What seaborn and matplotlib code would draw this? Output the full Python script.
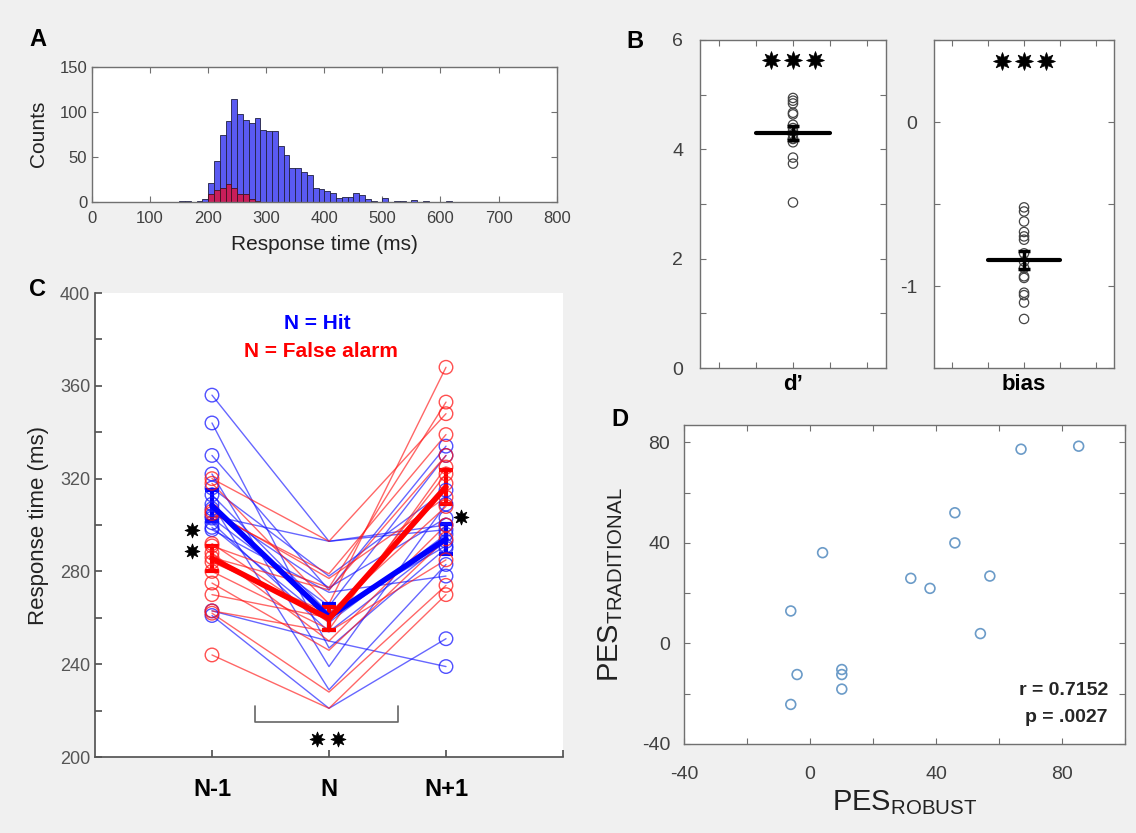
import numpy as np
import pandas as pd
import matplotlib
matplotlib.use('Agg')
import matplotlib.pyplot as plt
import seaborn as sns

# ---------------- data ----------------
# A: response time histogram, 10 ms bins starting at 150 ms
bin_starts = np.arange(150, 620, 10)
hit_counts = [1, 1, 0, 1, 3,
              21, 45, 74, 90, 114, 97, 91, 87, 93, 80,
              78, 78, 62, 52, 37, 37, 33, 29, 15, 14,
              12, 10, 4, 5, 5, 10, 7, 3, 1, 0,
              4, 0, 1, 1, 0, 2, 0, 1, 0, 0,
              0, 1]
fa_counts = [0, 0, 0, 0, 0,
             8, 13, 15, 20, 15, 8, 8, 3, 1, 0,
             0, 0, 0, 0, 0, 0, 0, 0, 0, 0,
             0, 0, 0, 0, 0, 0, 0, 0, 0, 0,
             0, 0, 0, 0, 0, 0, 0, 0, 0, 0,
             0, 0]

# B: per-subject d' and bias
dprime = [4.94, 4.89, 4.84, 4.67, 4.64, 4.45, 4.39, 4.33, 4.27, 4.20, 4.19, 4.13, 3.85, 3.74, 3.03]
bias = [-0.52, -0.545, -0.606, -0.67, -0.697, -0.717, -0.80, -0.85, -0.889, -0.94, -0.95,
        -1.04, -1.055, -1.10, -1.20]

# C: response times for trial N-1, N, N+1 (one entry per subject)
trial_labels = ['N-1', 'N', 'N+1']
hit_prev = [356, 344, 330, 322, 316, 313, 309, 307, 304, 303, 301, 299, 298, 263, 261]
hit_curr = [293, 247, 272, 239, 278, 262, 229, 273, 293, 265, 254, 258, 271, 250, 221]
hit_next = [300, 290, 334, 309, 315, 291, 283, 303, 298, 330, 293, 296, 278, 239, 251]
fa_prev = [320, 318, 306, 305, 292, 291, 288, 286, 284, 280, 275, 270, 263, 262, 244]
fa_curr = [293, 266, 277, 279, 258, 273, 250, 272, 262, 255, 246, 260, 254, 228, 221]
fa_next = [348, 368, 312, 339, 322, 353, 300, 330, 308, 325, 294, 318, 285, 274, 270]

# D: PES robust vs traditional
pes_robust = [67, 85.3, 46, 46, 4, 32, 38.1, 57.1, 54.1, -6.1, -4.1, 10.1, 10.1, 10.1, -6.1]
pes_trad = [77.3, 78.5, 52, 40, 36.1, 25.9, 21.9, 26.8, 3.9, 12.9, -12.4, -10.4, -12.4, -18.2, -24.3]

# ---------------- style ----------------
sns.set_theme(style='white')
plt.rcParams['font.family'] = ['Liberation Sans', 'DejaVu Sans']
plt.rcParams['mathtext.default'] = 'regular'

BG = '#f0f0f0'
TICK = '#404040'
BOX = '#707070'
STAR = (8, 1, 0)   # eight-pointed star used for significance marks

fig = plt.figure(figsize=(11.36, 8.33), dpi=100, facecolor=BG)


def boxed(ax, size=11):
    for s in ax.spines.values():
        s.set_visible(True)
        s.set_color(BOX)
        s.set_linewidth(1)
    ax.tick_params(direction='in', length=4, width=0.8, color=BOX,
                   top=True, right=True, bottom=True, left=True,
                   labelsize=size, labelcolor=TICK)
    ax.set_facecolor('white')


def stars(ax, xs, ys, ms=11):
    ax.plot(xs, ys, ls='none', marker=STAR, ms=ms, color='black', mew=0.5, zorder=6)


# ---------------- A ----------------
axA = fig.add_axes([0.081, 0.758, 0.409, 0.162])
hist_df = pd.DataFrame({'rt': bin_starts + 5, 'hit': hit_counts, 'fa': fa_counts})
bin_range = (bin_starts[0], bin_starts[-1] + 10)
sns.histplot(data=hist_df, x='rt', weights='hit', binwidth=10, binrange=bin_range,
             color='#5a5af2', alpha=1, edgecolor='#202040', linewidth=0.6, ax=axA)
sns.histplot(data=hist_df, x='rt', weights='fa', binwidth=10, binrange=bin_range,
             color='#c81e5a', alpha=1, edgecolor='#401020', linewidth=0.6, ax=axA)
axA.set_xlim(0, 800)
axA.set_ylim(0, 150)
axA.set_xticks(range(0, 801, 100))
axA.set_yticks([0, 50, 100, 150])
boxed(axA, 12)
axA.tick_params(axis='x', pad=7)
axA.set_xlabel('Response time (ms)', fontsize=15, color='#222222', labelpad=6)
axA.set_ylabel('Counts', fontsize=15, color='#222222', labelpad=8)

# ---------------- B ----------------
def dot_panel(ax, vals, label, ylim, yticks, ylabels, star_y):
    n = len(vals)
    sns.scatterplot(x=[3] * n, y=vals, s=45, facecolors='none', edgecolor='#444444',
                    linewidth=0.9, ax=ax, zorder=3)
    m = np.mean(vals)
    se = np.std(vals, ddof=1) / np.sqrt(n)
    ax.plot([2, 4], [m, m], color='black', lw=3, zorder=4)
    ax.errorbar([3], [m], yerr=[se], color='black', lw=2.5, capsize=4, capthick=2.5, zorder=4)
    ax.set_xlim(0.5, 5.5)
    ax.set_ylim(*ylim)
    ax.set_xticks([1, 2, 3, 4, 5])
    ax.set_xticklabels(['', '', label, '', ''], fontweight='bold')
    ax.set_yticks(yticks)
    ax.set_yticklabels(ylabels)
    boxed(ax, 14)
    ax.tick_params(axis='y', pad=12)
    ax.tick_params(axis='x', labelcolor='black', labelsize=16, pad=4)
    stars(ax, [2.4, 3.0, 3.6], [star_y] * 3, ms=13)
    ax.set_xlabel('')
    ax.set_ylabel('')


axB1 = fig.add_axes([0.6162, 0.558, 0.1637, 0.394])
dot_panel(axB1, dprime, 'd\u2019', (0, 6), [0, 1, 2, 3, 4, 5, 6],
          ['0', '', '2', '', '4', '', '6'], 5.63)
axB2 = fig.add_axes([0.8222, 0.558, 0.1585, 0.394])
dot_panel(axB2, bias, 'bias', (-1.5, 0.5), [-1.5, -1, -0.5, 0, 0.5],
          ['', '-1', '', '0', ''], 0.37)

# ---------------- C ----------------
rows = []
for cond, prev, curr, nxt in [('Hit', hit_prev, hit_curr, hit_next),
                              ('FA', fa_prev, fa_curr, fa_next)]:
    for s in range(len(prev)):
        for pos, v in zip([1, 2, 3], [prev[s], curr[s], nxt[s]]):
            rows.append(dict(cond=cond, subj=f'{cond}{s}', pos=pos, rt=v))
dfc = pd.DataFrame(rows)
pal = {'Hit': '#1515ff', 'FA': '#ff1515'}

axC = fig.add_axes([0.0836, 0.0912, 0.412, 0.557])
axC.set_facecolor('white')
sns.lineplot(data=dfc, x='pos', y='rt', hue='cond', units='subj', estimator=None,
             palette=pal, lw=1, alpha=0.65, legend=False, ax=axC)
for cond in ['Hit', 'FA']:
    sub = dfc[(dfc.cond == cond) & (dfc.pos != 2)]
    sns.scatterplot(x=sub.pos, y=sub.rt, s=95, facecolors='none', edgecolor=pal[cond],
                    linewidth=1, alpha=0.75, ax=axC, zorder=3)
sns.lineplot(data=dfc, x='pos', y='rt', hue='cond', errorbar='se', err_style='bars',
             err_kws={'capsize': 5, 'elinewidth': 3, 'capthick': 3},
             palette={'Hit': '#0000ff', 'FA': '#ff0000'}, lw=4, legend=False, ax=axC, zorder=5)

axC.set_xlim(0, 4)
axC.set_ylim(200, 400)
axC.set_xticks([1, 2, 3, 4])
axC.set_xticklabels(trial_labels + [''], fontweight='bold')
axC.set_yticks(range(200, 401, 20))
axC.set_yticklabels([str(v) if v % 40 == 0 else '' for v in range(200, 401, 20)])
for side in ['top', 'right']:
    axC.spines[side].set_visible(False)
for side in ['left', 'bottom']:
    axC.spines[side].set_visible(True)
    axC.spines[side].set_color('#555555')
axC.tick_params(direction='in', length=5, color='#555555', left=True, bottom=True,
                labelsize=13, labelcolor='#555555')
axC.tick_params(axis='x', labelcolor='black', labelsize=17, pad=15)
axC.set_xlabel('')
axC.set_ylabel('Response time (ms)', fontsize=16, color='#222222', labelpad=8)

axC.text(1.9, 387, 'N = Hit', color='#0000ff', fontsize=15, fontweight='bold', ha='center', va='center')
axC.text(1.93, 375, 'N = False alarm', color='#ff0000', fontsize=15, fontweight='bold', ha='center', va='center')

# significance annotations
stars(axC, [0.83, 0.83, 3.13, 1.90, 2.075], [297.7, 288.6, 303.5, 207.6, 207.6], ms=11)
axC.plot([1.37, 1.37, 2.59, 2.59], [222, 215, 215, 222], color='#666666', lw=1.2)

# ---------------- D ----------------
axD = fig.add_axes([0.6021, 0.107, 0.3882, 0.383])
sns.scatterplot(x=pes_robust, y=pes_trad, s=50, facecolors='none', edgecolor='#6b9bc8',
                linewidth=1.2, ax=axD)
axD.set_xlim(-40, 100)
axD.set_ylim(-40, 87)
axD.set_xticks(range(-40, 101, 20))
axD.set_xticklabels([str(v) if v % 40 == 0 else '' for v in range(-40, 101, 20)])
axD.set_yticks(range(-40, 81, 20))
axD.set_yticklabels([str(v) if v % 40 == 0 else '' for v in range(-40, 81, 20)])
boxed(axD, 14)
axD.tick_params(axis='x', pad=16)
axD.tick_params(axis='y', pad=10)
axD.set_xlabel(r'PES$_{\mathregular{ROBUST}}$', fontsize=21, color='#222222', labelpad=4)
axD.set_ylabel(r'PES$_{\mathregular{TRADITIONAL}}$', fontsize=21, color='#222222', labelpad=12)
axD.text(94.6, -18.8, 'r = 0.7152', fontsize=14, fontweight='bold', ha='right', va='center')
axD.text(94.6, -29.6, 'p = .0027', fontsize=14, fontweight='bold', ha='right', va='center')

# ---------------- panel letters ----------------
for letter, x, y in [('A', 38, 40), ('B', 635, 42), ('C', 38, 290), ('D', 620, 420)]:
    fig.text(x / 1136, 1 - y / 833, letter, fontsize=17, fontweight='bold',
             ha='center', va='center', color='black')

fig.savefig('out.png', dpi=100, facecolor=BG)
